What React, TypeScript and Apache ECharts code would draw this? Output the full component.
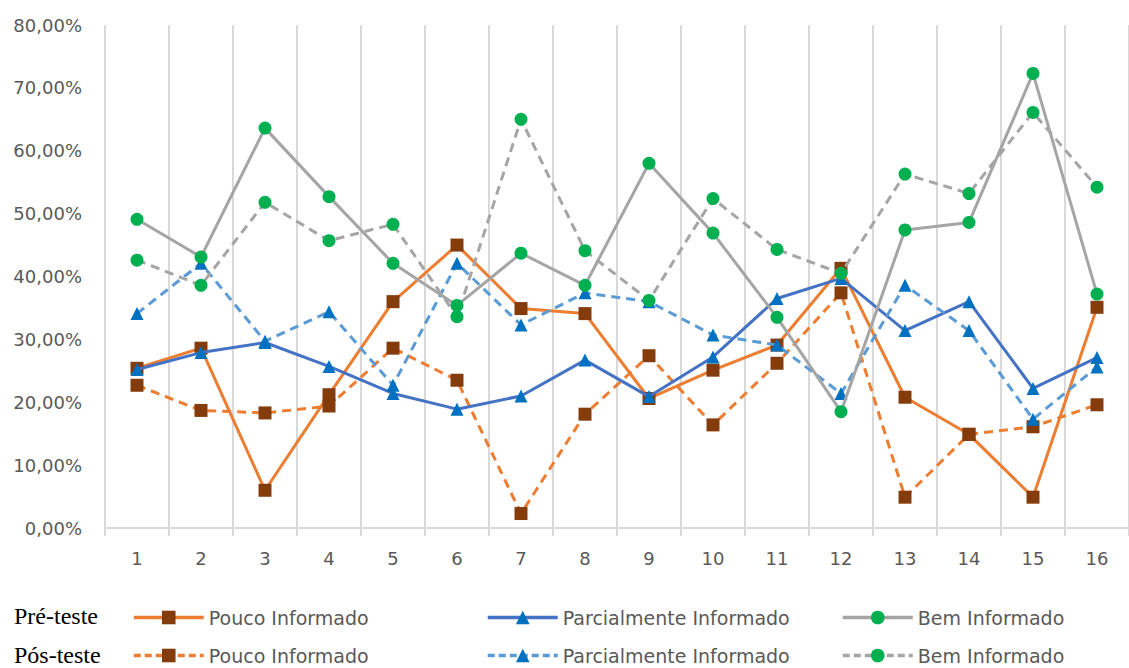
import React, { useEffect, useRef } from "react";
import * as echarts from "echarts";

const categories = ["1", "2", "3", "4", "5", "6", "7", "8", "9", "10", "11", "12", "13", "14", "15", "16"];

const prePouco = [25.4, 28.6, 6.0, 21.2, 36.0, 45.0, 34.9, 34.1, 20.6, 25.1, 29.1, 41.3, 20.8, 14.9, 4.9, 35.1];
const preParcial = [25.2, 27.9, 29.5, 25.7, 21.4, 18.9, 21.0, 26.7, 20.9, 27.2, 36.5, 39.7, 31.4, 36.0, 22.2, 27.1];
const preBem = [49.1, 43.1, 63.6, 52.7, 42.1, 35.4, 43.7, 38.6, 58.0, 46.9, 33.5, 18.5, 47.4, 48.6, 72.3, 37.2];
const posPouco = [22.7, 18.7, 18.3, 19.4, 28.6, 23.5, 2.3, 18.1, 27.4, 16.4, 26.2, 37.4, 4.9, 14.9, 16.1, 19.6];
const posParcial = [34.1, 42.1, 29.7, 34.4, 22.7, 42.1, 32.3, 37.4, 36.0, 30.7, 29.1, 21.4, 38.6, 31.4, 17.3, 25.6];
const posBem = [42.6, 38.6, 51.8, 45.7, 48.3, 33.6, 65.0, 44.1, 36.2, 52.4, 44.3, 40.5, 56.3, 53.2, 66.1, 54.2];

const rowLabels = ["Pré-teste", "Pós-teste"];
const groupNames = ["Pouco Informado", "Parcialmente Informado", "Bem Informado"];

const FONT = "'DejaVu Sans', sans-serif";

export default function App() {
  const ref = useRef<HTMLDivElement>(null);

  useEffect(() => {
    if (!ref.current) return;
    const chart = echarts.init(ref.current, undefined, { renderer: "svg" });

    const styles = [
      { symbol: "rect", line: "#ED7D31", marker: "#843C0C" },
      { symbol: "triangle", line: "#4472C4", marker: "#0070C0" },
      { symbol: "circle", line: "#A5A5A5", marker: "#00B050" },
    ];
    const posLineColors = ["#ED7D31", "#5B9BD5", "#A5A5A5"];

    const preData = [prePouco, preParcial, preBem];
    const posData = [posPouco, posParcial, posBem];

    const series: any[] = [];
    const legends: any[] = [];
    const legendLeft = [132, 486, 841];
    const legendTop = [608, 646];

    [preData, posData].forEach((set, row) => {
      set.forEach((values, i) => {
        const id = `${rowLabels[row]} ${groupNames[i]}`;
        const lineColor = row === 0 ? styles[i].line : posLineColors[i];
        series.push({
          type: "line",
          name: id,
          data: values,
          symbol: styles[i].symbol,
          symbolSize: 13,
          showAllSymbol: true,
          lineStyle: {
            color: lineColor,
            width: 3,
            type: row === 0 ? "solid" : [9, 6],
          },
          itemStyle: { color: styles[i].marker, borderWidth: 0 },
          emphasis: { disabled: true },
          z: 2 + i,
        });
        legends.push({
          data: [id],
          left: legendLeft[i],
          top: legendTop[row],
          padding: 0,
          itemWidth: 70,
          itemHeight: 17,
          itemGap: 0,
          selectedMode: false,
          formatter: () => groupNames[i],
          lineStyle: { color: lineColor, width: 3.5, type: row === 0 ? "solid" : [7, 4] },
          itemStyle: { color: styles[i].marker, borderWidth: 0 },
          textStyle: { fontFamily: FONT, fontSize: 19, color: "#595959" },
        });
      });
    });

    chart.setOption({
      animation: false,
      grid: { left: 105, top: 25, right: -10, bottom: 140, containLabel: false },
      legend: legends,
      xAxis: {
        type: "category",
        data: categories,
        boundaryGap: true,
        axisLine: { show: true, lineStyle: { color: "#D9D9D9", width: 2 } },
        axisTick: { show: true, length: 8, lineStyle: { color: "#D9D9D9", width: 2 } },
        splitLine: { show: true, lineStyle: { color: "#D9D9D9", width: 2 } },
        axisLabel: { fontFamily: FONT, fontSize: 18, color: "#595959", margin: 21 },
      },
      yAxis: {
        type: "value",
        min: 0,
        max: 80,
        interval: 10,
        axisLine: { show: false },
        axisTick: { show: false },
        splitLine: { show: false },
        axisLabel: {
          fontFamily: FONT,
          fontSize: 18,
          color: "#595959",
          margin: 23,
          formatter: (v: number) => `${v.toFixed(2).replace(".", ",")}%`,
        },
      },
      graphic: rowLabels.map((t, r) => ({
        type: "text",
        left: 14,
        top: r === 0 ? 604 : 643,
        style: {
          text: t,
          fontFamily: "'Liberation Serif', serif",
          fontSize: 24,
          fill: "#000000",
        },
      })),
      series,
    });

    return () => chart.dispose();
  }, []);

  return (
    <div
      ref={ref}
      style={{ position: "absolute", left: 0, top: 0, width: 1129, height: 668, background: "#ffffff" }}
    />
  );
}
